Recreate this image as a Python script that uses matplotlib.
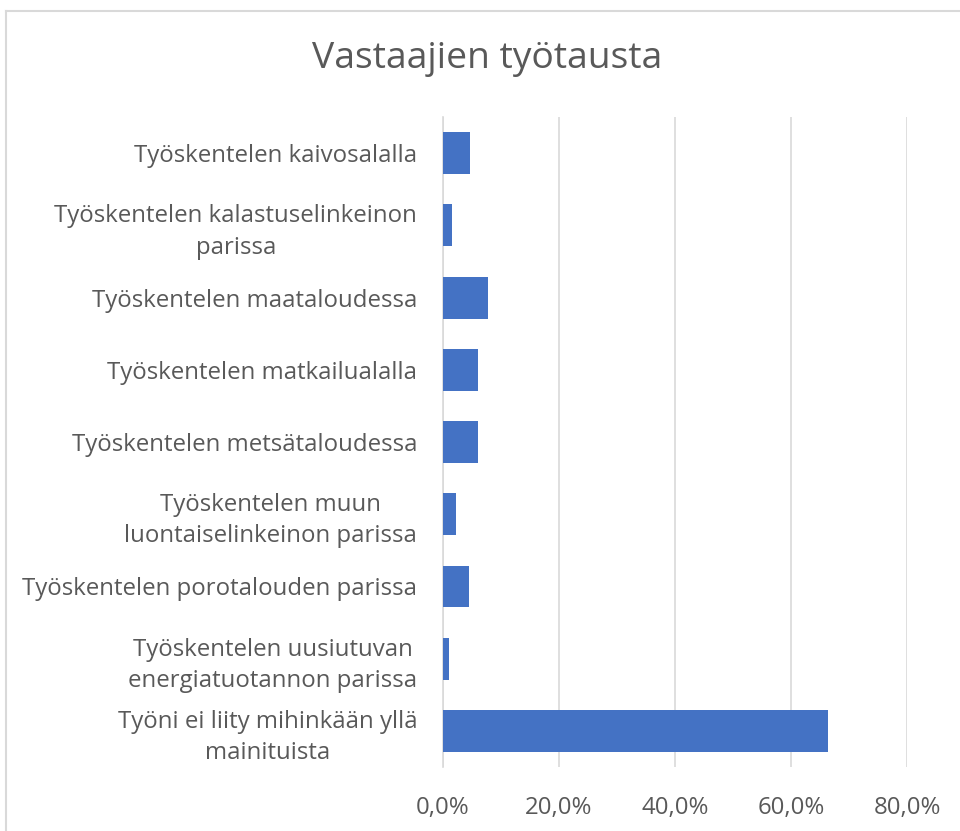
import matplotlib.pyplot as plt
from matplotlib.lines import Line2D
from matplotlib.ticker import FuncFormatter

# Data
categories = [
    'Työskentelen kaivosalalla',
    'Työskentelen kalastuselinkeinon\nparissa',
    'Työskentelen maataloudessa',
    'Työskentelen matkailualalla',
    'Työskentelen metsätaloudessa',
    'Työskentelen muun\nluontaiselinkeinon parissa',
    'Työskentelen porotalouden parissa',
    'Työskentelen uusiutuvan\nenergiatuotannon parissa',
    'Työni ei liity mihinkään yllä\nmainituista',
]
shares = [4.7, 1.6, 7.8, 6.0, 6.0, 2.2, 4.4, 1.1, 66.4]
x_ticks = [0, 20, 40, 60, 80]

plt.rcParams['font.family'] = ['Open Sans', 'DejaVu Sans']
text_color = '#595959'
grid_color = '#d9d9d9'

fig = plt.figure(figsize=(9.6, 8.31), dpi=100)
ax = fig.add_axes([0.4615, 0.077, 0.9448 - 0.4615, 0.8592 - 0.077])

y_pos = list(range(len(categories)))
ax.barh(y_pos, shares, height=0.58, color='#4472C4', zorder=3)

ax.set_ylim(len(categories) - 0.5, -0.5)
ax.set_xlim(0, 80)
ax.set_yticks(y_pos)
ax.set_yticklabels(categories, fontsize=17.3, color=text_color, multialignment='center',
                   linespacing=1.4)
ax.set_xticks(x_ticks)
ax.xaxis.set_major_formatter(FuncFormatter(lambda v, p: f'{v:.1f}%'.replace('.', ',')))
ax.tick_params(axis='x', labelsize=17.3, labelcolor=text_color, length=0, pad=21)
ax.tick_params(axis='y', length=0, pad=18.5)

ax.grid(axis='x', color=grid_color, linewidth=1.2, zorder=0)
for side in ['top', 'right', 'bottom']:
    ax.spines[side].set_visible(False)
ax.spines['left'].set_color(grid_color)
ax.spines['left'].set_linewidth(1.2)

fig.text(0.507, 0.929, 'Vastaajien työtausta', ha='center', va='center',
         fontsize=26.8, color=text_color)

# chart border (cropped on the right and bottom)
fig.add_artist(Line2D([6 / 960, 6 / 960], [0, 1 - 11 / 831], transform=fig.transFigure,
                      color=grid_color, linewidth=1.5))
fig.add_artist(Line2D([6 / 960, 1], [1 - 11 / 831, 1 - 11 / 831], transform=fig.transFigure,
                      color=grid_color, linewidth=1.5))

plt.savefig('out.png', dpi=100, facecolor='white')
